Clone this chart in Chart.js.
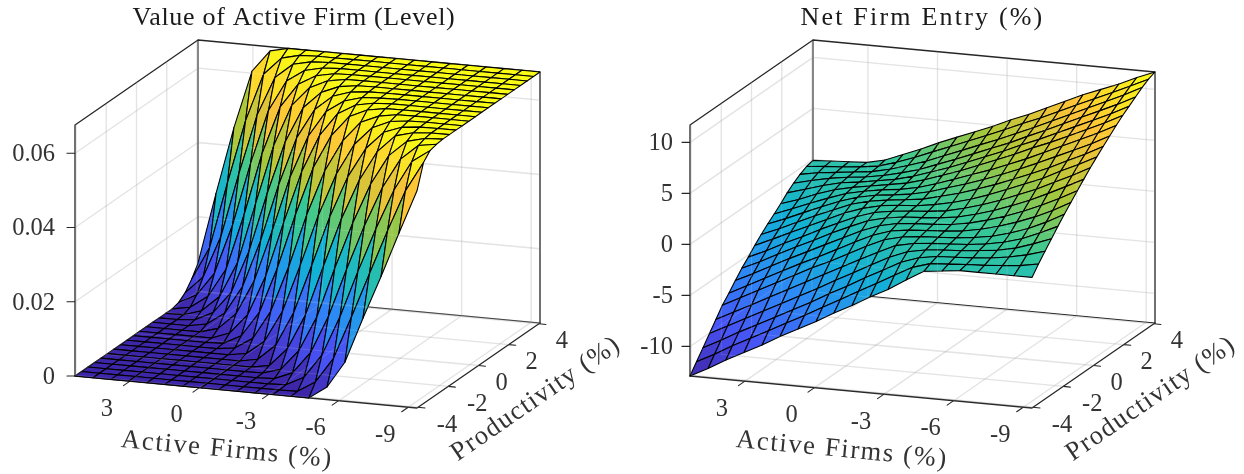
<!DOCTYPE html>
<html>
<head>
<meta charset="utf-8">
<style>
  html, body { margin: 0; padding: 0; background: #fff; }
  canvas { position: absolute; top: 0; }
</style>
<script src="https://cdn.jsdelivr.net/npm/chart.js@4/dist/chart.umd.js"></script>
</head>
<body>
<canvas id="left" width="625" height="474" style="left:0"></canvas>
<canvas id="right" width="629" height="474" style="left:615px"></canvas>
<script>
// surface grid, rows are productivity, columns are active firms
const activeFirms = [5.37, 4.59, 3.82, 3.04, 2.26, 1.49, 0.71, -0.07, -0.84, -1.62, -2.39, -3.17, -3.95, -4.72, -5.5, -6.27, -7.05, -7.83, -8.6, -9.38];
const productivity = [-4.07, -3.64, -3.21, -2.78, -2.36, -1.93, -1.5, -1.07, -0.64, -0.21, 0.21, 0.64, 1.07, 1.5, 1.93, 2.36, 2.78, 3.21, 3.64, 4.07];

const firmTicks = [3, 0, -3, -6, -9];
const productivityTicks = [-4, -2, 0, 2, 4];
const valueTicks = [0, 0.02, 0.04, 0.06];
const valueTickLabels = ["0", "0.02", "0.04", "0.06"];
const entryTicks = [-10, -5, 0, 5, 10];
const entryTickLabels = ["-10", "-5", "0", "5", "10"];
const valueLimits = [0, 0.0676];
const entryLimits = [-12.9, 11.7];

const firmValue = [
  [0,0,0,0,0,0,0,0,0,0,0,0,0,0,.0034,.0105,.0228,.0345,.0466,.0585],
  [0,0,0,0,0,0,0,0,0,0,0,0,.0001,.0031,.0099,.0214,.0336,.0456,.0568,.0649],
  [0,0,0,0,0,0,0,0,0,0,0,.0002,.0027,.0091,.0199,.0325,.0445,.0554,.0635,.0669],
  [0,0,0,0,0,0,0,0,0,0,.0002,.0022,.0081,.0183,.0314,.0436,.0544,.0625,.0666,.0674],
  [0,0,0,0,0,0,0,0,0,.0001,.0015,.007,.0166,.0301,.0428,.0537,.0618,.0661,.0673,.0676],
  [0,0,0,0,0,0,0,0,0,.0009,.0058,.0153,.029,.0421,.0531,.0612,.0659,.0672,.0676,.0676],
  [0,0,0,0,0,0,0,0,.0009,.0052,.0144,.0276,.0412,.0523,.0604,.0652,.067,.0675,.0676,.0676],
  [0,0,0,0,0,0,0,.0008,.0045,.013,.0259,.0398,.0514,.0598,.0648,.0669,.0675,.0676,.0676,.0676],
  [0,0,0,0,0,0,.0006,.0037,.0114,.024,.0383,.0506,.0592,.0646,.0667,.0675,.0676,.0676,.0676,.0676],
  [0,0,0,0,0,.0002,.0027,.0095,.0218,.0366,.0498,.0589,.0645,.0667,.0675,.0676,.0676,.0676,.0676,.0676],
  [0,0,0,0,0,.0018,.0072,.0181,.0329,.0471,.0573,.0636,.0664,.0673,.0676,.0676,.0676,.0676,.0676,.0676],
  [0,0,0,0,.0014,.0058,.0151,.0291,.044,.0554,.0625,.0658,.0672,.0675,.0676,.0676,.0676,.0676,.0676,.0676],
  [0,0,0,.0009,.0043,.0119,.0248,.0403,.0533,.0614,.0654,.067,.0675,.0676,.0676,.0676,.0676,.0676,.0676,.0676],
  [0,0,.0004,.0028,.0087,.0203,.0362,.0506,.0602,.0648,.0668,.0675,.0676,.0676,.0676,.0676,.0676,.0676,.0676,.0676],
  [0,.0001,.0016,.0059,.0156,.0318,.0479,.0592,.0644,.0667,.0675,.0676,.0676,.0676,.0676,.0676,.0676,.0676,.0676,.0676],
  [0,.0009,.0043,.0121,.0273,.0441,.0571,.0637,.0664,.0674,.0676,.0676,.0676,.0676,.0676,.0676,.0676,.0676,.0676,.0676],
  [.0005,.003,.0093,.0227,.0398,.0545,.0629,.0662,.0673,.0676,.0676,.0676,.0676,.0676,.0676,.0676,.0676,.0676,.0676,.0676],
  [.0019,.0066,.018,.0355,.0516,.0622,.0662,.0673,.0676,.0676,.0676,.0676,.0676,.0676,.0676,.0676,.0676,.0676,.0676,.0676],
  [.0043,.0133,.0312,.0484,.0614,.0662,.0674,.0676,.0676,.0676,.0676,.0676,.0676,.0676,.0676,.0676,.0676,.0676,.0676,.0676],
  [.0075,.0268,.0449,.0606,.0665,.0676,.0676,.0676,.0676,.0676,.0676,.0676,.0676,.0676,.0676,.0676,.0676,.0676,.0676,.0676]
];

const netEntry = [
  [-12.9,-12,-11,-10.1,-9.2,-8.2,-7.3,-6.4,-5.4,-4.5,-3.5,-2.6,-1.5,-.5,-.3,-.1,-.1,-.1,-.1,-.1],
  [-11.95,-11.05,-10.05,-9.15,-8.25,-7.33,-6.43,-5.45,-4.53,-3.55,-2.63,-1.65,-.71,-.18,-.06,.06,.14,.29,.45,.77],
  [-11,-10.1,-9.15,-8.26,-7.36,-6.46,-5.56,-4.56,-3.66,-2.66,-1.76,-.82,-.21,.07,.17,.27,.43,.69,1.06,1.58],
  [-10.06,-9.16,-8.26,-7.36,-6.46,-5.56,-4.66,-3.69,-2.79,-1.83,-.93,-.22,.11,.27,.37,.56,.75,1.12,1.7,2.37],
  [-9.11,-8.21,-7.33,-6.41,-5.51,-4.61,-3.72,-2.82,-1.92,-1.04,-.22,.15,.33,.43,.55,.76,1.1,1.61,2.33,3.15],
  [-8.16,-7.26,-6.36,-5.46,-4.56,-3.66,-2.86,-1.96,-1.06,-.25,.18,.39,.49,.59,.79,1.08,1.57,2.17,2.96,3.9],
  [-7.43,-6.53,-5.63,-4.73,-3.83,-3.01,-2.13,-1.23,-.41,.17,.42,.55,.65,.82,1.17,1.62,2.19,2.87,3.67,4.62],
  [-6.62,-5.77,-4.87,-3.97,-3.12,-2.27,-1.42,-.58,.07,.46,.61,.71,.86,1.16,1.62,2.17,2.82,3.58,4.4,5.33],
  [-5.84,-5.04,-4.14,-3.28,-2.44,-1.58,-.78,-.04,.4,.66,.76,.9,1.16,1.59,2.12,2.76,3.46,4.27,5.12,6.02],
  [-5.2,-4.4,-3.51,-2.71,-1.82,-1.02,-.25,.33,.62,.81,.93,1.15,1.57,2.08,2.69,3.39,4.09,4.95,5.77,6.7],
  [-4.5,-3.7,-2.89,-2.09,-1.28,-.48,.14,.57,.78,.89,1.17,1.54,2.03,2.62,3.31,4.01,4.71,5.61,6.41,7.31],
  [-3.86,-3.12,-2.33,-1.52,-.79,-.06,.4,.67,.87,1.1,1.54,2.01,2.58,3.18,3.88,4.58,5.34,6.18,6.98,7.91],
  [-3.27,-2.57,-1.82,-1.07,-.37,.19,.55,.75,.99,1.39,1.94,2.48,3.08,3.73,4.43,5.18,5.98,6.78,7.58,8.5],
  [-2.72,-2.04,-1.34,-.67,-.05,.33,.63,.85,1.2,1.73,2.33,2.96,3.58,4.28,4.99,5.78,6.58,7.38,8.18,9.08],
  [-2.16,-1.57,-.88,-.29,.11,.41,.71,1.02,1.52,2.12,2.73,3.43,4.13,4.83,5.63,6.33,7.13,7.93,8.73,9.63],
  [-1.53,-1.01,-.48,-.05,.18,.48,.78,1.25,1.84,2.44,3.12,3.82,4.52,5.3,6.02,6.8,7.6,8.4,9.2,10.1],
  [-1.02,-.58,-.21,.06,.26,.56,.99,1.49,2.15,2.82,3.51,4.22,4.92,5.72,6.48,7.28,8.08,8.88,9.68,10.57],
  [-.59,-.27,-.06,.14,.34,.73,1.27,1.85,2.55,3.25,3.95,4.65,5.4,6.15,6.95,7.75,8.55,9.35,10.15,11.05],
  [-.26,-.08,.02,.2,.44,.98,1.61,2.33,3.03,3.73,4.43,5.15,5.93,6.65,7.45,8.25,9.03,9.8,10.6,11.44],
  [-.1,0,.1,.2,.6,1.3,2,2.8,3.5,4.2,4.9,5.7,6.4,7.2,8,8.8,9.5,10.2,11,11.7]
];

const parula = [
  [62,38,168], [72,82,244], [46,135,247], [18,177,214],
  [55,200,151], [171,199,57], [254,195,56], [249,251,21]
];

const H = 474, TITLE_H = 33;
const INK = "#262626";
const SERIF = "'Liberation Serif', serif";

function parulaColor(t) {
  const p = Math.max(0, Math.min(1, t)) * (parula.length - 1);
  const k = Math.min(Math.floor(p), parula.length - 2), f = p - k;
  const c = parula[k].map((v, n) => Math.round(v + (parula[k + 1][n] - v) * f));
  return "rgb(" + c.join(",") + ")";
}

function surfaceChart(id, cfg) {
  const xLim = [activeFirms[0], activeFirms[activeFirms.length - 1]];
  const yLim = [productivity[0], productivity[productivity.length - 1]];
  const zLim = cfg.zLimits;

  // orthographic view of the box, same angles on both panels
  function project(x, y, z) {
    const a = (x - xLim[0]) / (xLim[1] - xLim[0]);
    const b = (y - yLim[0]) / (yLim[1] - yLim[0]);
    const c = (z - zLim[0]) / (zLim[1] - zLim[0]);
    return { x: 75 + 342 * a + 123 * b, y: H - (376 + 32 * a - 85 * b - 251 * c) };
  }

  function segment(points, color, width) {
    return { data: points, borderColor: color, borderWidth: width, pointRadius: 0, fill: false, clip: false };
  }

  function gridLines(color, width) {
    const out = [];
    const z0 = zLim[0], z1 = zLim[1];
    firmTicks.forEach(t => {
      out.push(segment([project(t, yLim[0], z0), project(t, yLim[1], z0), project(t, yLim[1], z1)], color, width));
    });
    productivityTicks.forEach(t => {
      out.push(segment([project(xLim[1], t, z0), project(xLim[0], t, z0), project(xLim[0], t, z1)], color, width));
    });
    cfg.zTicks.forEach(t => {
      out.push(segment([project(xLim[0], yLim[0], t), project(xLim[0], yLim[1], t), project(xLim[1], yLim[1], t)], color, width));
    });
    return out;
  }

  function boxLines() {
    const [x0, x1] = xLim, [y0, y1] = yLim, [z0, z1] = zLim;
    const out = [
      segment([project(x0, y0, z0), project(x1, y0, z0), project(x1, y1, z0)], INK, 1.3),
      segment([project(x0, y1, z0), project(x1, y1, z0)], INK, 1.1),
      segment([project(x0, y0, z0), project(x0, y0, z1), project(x0, y1, z1), project(x1, y1, z1), project(x1, y1, z0)], INK, 1.3),
      segment([project(x0, y1, z0), project(x0, y1, z1)], INK, 1.1)
    ];
    firmTicks.forEach(t => {
      const p = project(t, yLim[0], z0);
      out.push(segment([p, { x: p.x - 6.5, y: p.y - 4.5 }], INK, 1.1));
    });
    productivityTicks.forEach(t => {
      const p = project(xLim[1], t, z0);
      out.push(segment([p, { x: p.x + 7, y: p.y - 0.7 }], INK, 1.1));
    });
    cfg.zTicks.forEach(t => {
      const p = project(x0, y0, t);
      out.push(segment([p, { x: p.x - 8, y: p.y }], INK, 1.1));
    });
    return out;
  }

  // first dataset is painted last, so the quads go front to back
  const quads = [];
  for (let j = 0; j < productivity.length - 1; j++) {
    for (let i = activeFirms.length - 2; i >= 0; i--) {
      const Z = cfg.z;
      const corner = (Z[j][i + 1] - zLim[0]) / (zLim[1] - zLim[0]);
      const p = [
        project(activeFirms[i], productivity[j], Z[j][i]),
        project(activeFirms[i + 1], productivity[j], Z[j][i + 1]),
        project(activeFirms[i + 1], productivity[j + 1], Z[j + 1][i + 1]),
        project(activeFirms[i], productivity[j + 1], Z[j + 1][i])
      ];
      quads.push({
        data: [p[0], p[1], p[2], p[3], p[0]],
        fill: "shape",
        backgroundColor: parulaColor(corner),
        borderColor: "#000",
        borderWidth: 1.1,
        pointRadius: 0,
        clip: false
      });
    }
  }

  const labelsPlugin = {
    id: "boxLabels",
    beforeDraw(chart) { chart.ctx.letterSpacing = cfg.titleSpacing; },
    afterDraw(chart) {
      const ctx = chart.ctx;
      const sx = chart.scales.x, sy = chart.scales.y;
      const px = p => ({ x: sx.getPixelForValue(p.x), y: sy.getPixelForValue(p.y) });
      ctx.save();
      ctx.fillStyle = "#333";
      ctx.textBaseline = "middle";
      ctx.font = "24.5px " + SERIF;
      ctx.letterSpacing = "0px";
      ctx.textAlign = "center";
      firmTicks.forEach(t => {
        const p = px(project(t, yLim[0], zLim[0]));
        ctx.fillText(String(t), p.x - 23, p.y + 28);
      });
      productivityTicks.forEach(t => {
        const p = px(project(xLim[1], t, zLim[0]));
        ctx.fillText(String(t), p.x + (t < 0 ? 29 : 23), p.y + 18);
      });
      ctx.textAlign = "right";
      cfg.zTicks.forEach((t, n) => {
        const p = px(project(xLim[0], yLim[0], t));
        ctx.fillText(cfg.zLabels[n], cfg.zLabelX, p.y + 1.5);
      });
      ctx.textAlign = "center";
      ctx.font = "26.5px " + SERIF;
      ctx.letterSpacing = "1.7px";
      ctx.save();
      ctx.translate(227, 450);
      ctx.rotate(5.4 * Math.PI / 180);
      ctx.fillText("Active Firms (%)", 0, 0);
      ctx.restore();
      ctx.save();
      ctx.translate(536, 399);
      ctx.rotate(-34.6 * Math.PI / 180);
      ctx.letterSpacing = "1.4px";
      ctx.fillText("Productivity (%)", 0, 0);
      ctx.restore();
      ctx.restore();
    }
  };

  return new Chart(document.getElementById(id), {
    type: "line",
    data: { datasets: [...gridLines("rgba(255,255,255,0.13)", 1), ...quads, ...boxLines(), ...gridLines("rgba(38,38,38,0.14)", 1.3)] },
    plugins: [labelsPlugin],
    options: {
      responsive: false,
      animation: false,
      events: [],
      layout: { padding: { right: cfg.paddingRight } },
      elements: { line: { tension: 0, borderJoinStyle: "round", borderCapStyle: "round" } },
      scales: {
        x: { type: "linear", display: false, min: 0, max: cfg.areaWidth },
        y: { type: "linear", display: false, min: 0, max: H - TITLE_H }
      },
      plugins: {
        legend: { display: false },
        tooltip: { enabled: false },
        title: {
          display: true,
          text: cfg.title,
          color: "#1a1a1a",
          padding: { top: 3, bottom: 0 },
          font: { family: SERIF, size: 26, weight: "normal", lineHeight: 30 / 26 }
        }
      }
    }
  });
}

surfaceChart("left", {
  title: "Value of Active Firm (Level)", titleSpacing: "0.7px",
  z: firmValue, zLimits: valueLimits, zTicks: valueTicks, zLabels: valueTickLabels,
  zLabelX: 55, areaWidth: 588, paddingRight: 37
});
surfaceChart("right", {
  title: "Net Firm Entry (%)", titleSpacing: "2.2px",
  z: netEntry, zLimits: entryLimits, zTicks: entryTicks, zLabels: entryTickLabels,
  zLabelX: 58, areaWidth: 615, paddingRight: 14
});
</script>
</body>
</html>
